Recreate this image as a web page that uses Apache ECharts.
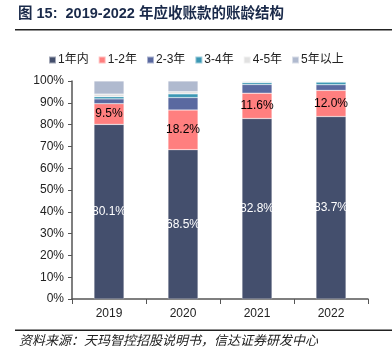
<!DOCTYPE html>
<html>
<head>
<meta charset="utf-8">
<script src="https://cdn.jsdelivr.net/npm/echarts@6/dist/echarts.min.js"></script>
<style>
  html, body { margin: 0; padding: 0; background: #fff; }
  #chart { width: 392px; height: 351px; }
</style>
</head>
<body>
<div id="chart"></div>
<script>
var years = ['2019', '2020', '2021', '2022']
var seriesNames = ['1年内', '1-2年', '2-3年', '3-4年', '4-5年', '5年以上']
var within1 = [80.1, 68.5, 82.8, 83.7]
var y1to2 = [9.5, 18.2, 11.6, 12.0]
var y2to3 = [2.2, 5.7, 4.0, 2.6]
var y3to4 = [1.0, 1.7, 0.9, 1.2]
var y4to5 = [1.2, 1.0, 0.4, 0.3]
var over5 = [6.0, 4.9, 0.3, 0.2]
var colors = ['#444f6d', '#ff7f7f', '#5a69a0', '#3c98b4', '#e1e1e1', '#b0bacf']

var fontFamily = 'Liberation Sans, Noto Sans CJK SC, sans-serif'
var allData = [within1, y1to2, y2to3, y3to4, y4to5, over5]

var series = allData.map(function (d, i) {
    var s = {
        name: seriesNames[i],
        type: 'bar',
        stack: 'total',
        data: d,
        barWidth: 30,
        itemStyle: { color: colors[i], borderColor: 'rgba(255,255,255,0.5)', borderWidth: 0.5 }
    }
    // only the two biggest bands carry a label
    if (i < 2) {
        s.label = {
            show: true, position: 'inside',
            color: i === 0 ? '#fff' : '#000', fontSize: 12, fontFamily: fontFamily,
            formatter: function (p) { return p.value.toFixed(1) + '%' }
        }
    }
    return s
})

var chart = echarts.init(document.getElementById('chart'))
chart.setOption({
    animation: false,
    graphic: [
        {
            type: 'text', left: 18, top: 7,
            style: { text: '图 15:  2019-2022 年应收账款的账龄结构', fill: '#1a2a4a',
                font: 'bold 14.5px ' + fontFamily }
        },
        { type: 'rect', shape: { x: 15, y: 29, width: 377, height: 1.5 }, style: { fill: '#222' } },
        { type: 'rect', shape: { x: 15, y: 329.5, width: 377, height: 1.5 }, style: { fill: '#222' } },
        {
            type: 'text', left: 19, top: 335,
            style: { text: '资料来源：天玛智控招股说明书，信达证券研发中心', fill: '#222',
                font: 'italic 13px ' + fontFamily }
        }
    ],
    legend: {
        top: 49, left: 43,
        itemWidth: 7, itemHeight: 7, itemGap: 9,
        icon: 'rect',
        textStyle: { fontSize: 12, color: '#222', fontFamily: fontFamily, padding: [0, 0, 0, -3] },
        data: seriesNames
    },
    grid: { left: 72, right: 24, top: 81, bottom: 52 },
    xAxis: {
        type: 'category',
        data: years,
        axisLine: { lineStyle: { color: '#555', width: 1.5 } },
        axisTick: { show: true, alignWithLabel: false, length: 5, lineStyle: { color: '#555' } },
        axisLabel: { color: '#222', fontSize: 12, fontFamily: fontFamily, margin: 9 }
    },
    yAxis: {
        type: 'value',
        min: 0, max: 100, interval: 10,
        axisLine: { show: true, lineStyle: { color: '#555', width: 1.5 } },
        axisTick: { show: true, inside: false, length: 4, lineStyle: { color: '#555' } },
        splitLine: { show: false },
        axisLabel: { color: '#222', fontSize: 12, fontFamily: fontFamily, margin: 8,
            formatter: '{value}%' }
    },
    series: series
})
</script>
</body>
</html>
